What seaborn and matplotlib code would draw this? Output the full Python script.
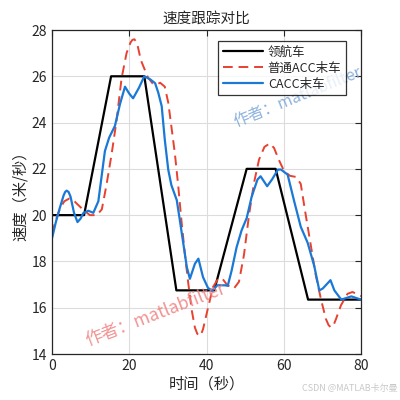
import matplotlib
matplotlib.use("Agg")
import matplotlib.pyplot as plt
import seaborn as sns
import numpy as np

sns.set_theme(style="white")
plt.rcParams['font.family'] = ['Noto Sans CJK SC', 'DejaVu Sans']
plt.rcParams['axes.unicode_minus'] = False

# leader car
t_lead = [0, 8.3, 15.3, 23.9, 32.2, 42.0, 50.4, 57.9, 66.3, 80]
v_lead = [20, 20, 26, 26, 16.75, 16.75, 22, 22, 16.35, 16.35]

# ordinary ACC last car
t_acc = [0, 1, 2.1, 3.2, 4.5, 5.5, 6.4, 8.1, 9.8, 11.6, 12.9, 14.1, 15.4, 16.7,
         18.0, 19.3, 20.3, 20.8, 21.3, 21.8, 22.2, 23.0, 24.8, 26.0, 27.1, 28.0, 29.2, 30.1,
         30.9, 31.8, 32.7, 33.5, 34.4, 35.3, 36.2, 37.0, 37.6, 38.1, 38.6, 39.1, 40.4, 41.7,
         43.0, 44.1, 45.4, 47.1, 48.4, 49.7, 51.0, 52.3, 53.6, 55.0, 56.4, 57.5,
         58.7, 60.1, 61.6, 63.2, 64.4, 65.7, 67.0, 68.3, 69.6, 70.9, 71.6, 72.2, 72.9, 73.5,
         74.8, 76.5, 77.8, 80]
v_acc = [19.2, 19.8, 20.3, 20.6, 20.72, 20.65, 20.5, 20.23, 20.0, 20.0, 20.25,
         21.3, 22.6, 24.07, 25.9, 27.0, 27.45, 27.57, 27.6, 27.5, 27.3, 26.7, 25.96, 25.7,
         25.65, 25.72, 25.55, 24.86, 23.84, 22.68, 21.23, 19.78, 18.33, 17.03,
         15.87, 15.14, 14.88, 14.78, 14.85, 15.07, 16.0, 16.9, 17.25, 17.26, 16.97, 16.83,
         17.12, 18.28, 20.0, 21.4, 22.4, 22.95, 23.1, 22.9, 22.4, 21.9, 21.7,
         21.65, 21.35, 20.0, 18.7, 17.4, 16.39, 15.52, 15.25, 15.15, 15.25, 15.5, 16.1, 16.6,
         16.68, 16.5]

# CACC last car
t_cacc = [0, 1, 2, 3, 3.4, 3.8, 4.3, 4.8, 5.7, 6.6, 7.4, 8.1, 9.4, 10.7, 12.0, 12.9, 13.7,
          14.8, 16.3, 17.6, 18.9, 20.0, 21.0, 22.5, 23.9, 25.4, 26.7, 27.5, 28.4,
          29.2, 30.1, 30.9, 32.3, 33.1, 34.0, 34.9, 35.7, 37.0, 37.9, 39.1, 40.4,
          41.5, 42.8, 44.6, 45.5, 46.5, 47.8, 49.1, 50.4, 51.7, 53.2, 54.0, 55.7,
          57.0, 58.5, 59.3, 61.0, 62.7, 64.4, 66.2, 67.9, 69.2, 70.1, 72.1, 73.1,
          74.9, 77.5, 80]
v_cacc = [19.0, 19.7, 20.3, 20.85, 21.0, 21.06, 21.0, 20.8, 20.1, 19.7, 19.85, 20.09, 20.19,
          20.1, 20.6, 21.75, 22.77, 23.35, 23.86, 24.8, 25.55, 25.25, 25.05, 25.5,
          26.0, 25.87, 25.7, 25.3, 24.71, 23.26, 21.96, 21.3, 20.65, 19.78, 18.77,
          17.76, 17.25, 17.9, 18.12, 17.32, 16.85, 16.74, 16.97, 16.97, 16.95,
          17.6, 18.62, 19.35, 19.87, 20.8, 21.54, 21.68, 21.25, 21.55, 21.97,
          21.97, 21.75, 20.6, 19.5, 18.8, 17.8, 16.75, 16.83, 17.19, 16.75, 16.35,
          16.49, 16.35]

fig = plt.figure(figsize=(4, 4), dpi=100)
ax = fig.add_axes([0.13, 0.115, 0.7725, 0.81])

sns.lineplot(x=t_lead, y=v_lead, ax=ax, color='black', linewidth=1.6, label='领航车')
sns.lineplot(x=t_acc, y=v_acc, ax=ax, color='#e8412f', linewidth=1.4,
             linestyle=(0, (5, 3)), label='普通ACC末车')
sns.lineplot(x=t_cacc, y=v_cacc, ax=ax, color='#1a78d6', linewidth=1.6, label='CACC末车')

ax.set_xlim(0, 80)
ax.set_ylim(14, 28)
ax.set_xticks([0, 20, 40, 60, 80])
ax.set_yticks([14, 16, 18, 20, 22, 24, 26, 28])
ax.grid(True, color='#dcdcdc', linewidth=0.8)
ax.tick_params(direction='in', top=True, right=True, length=4, width=0.8,
               labelsize=10, colors='#262626')
for s in ax.spines.values():
    s.set_color('#262626')
    s.set_linewidth(0.9)

ax.set_title('速度跟踪对比', fontsize=10.5, pad=5)
ax.set_xlabel('时间（秒）', fontsize=11, labelpad=2)
ax.set_ylabel('速度（米/秒）', fontsize=11, labelpad=2)

leg = ax.legend(loc='upper right', bbox_to_anchor=(0.971, 0.985), fontsize=9,
                frameon=True, fancybox=False, borderpad=0.35, labelspacing=0.25,
                handlelength=3.2, handletextpad=0.4)
leg.get_frame().set_edgecolor('black')
leg.get_frame().set_linewidth(0.9)

# watermarks
ax.text(0.1, 0.025, '作者：matlabfilter', transform=ax.transAxes, rotation=21,
        color='#f08080', alpha=0.85, fontsize=12.5)
ax.text(0.58, 0.7, '作者：matlabfilter', transform=ax.transAxes, rotation=22,
        color='#7aa6d8', alpha=0.85, fontsize=11.5)
fig.text(0.995, 0.022, 'CSDN @MATLAB卡尔曼', ha='right', color='#c8c8c8', fontsize=6.5)

fig.savefig('out.png', dpi=100)
